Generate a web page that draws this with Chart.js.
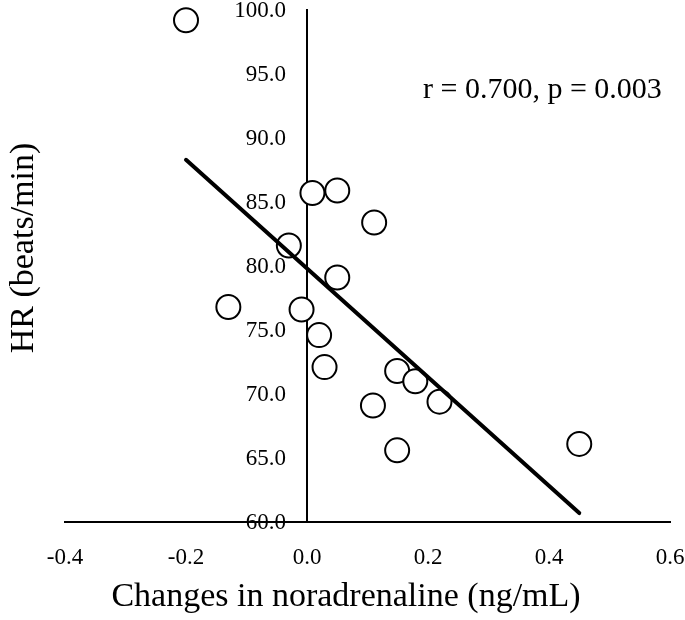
<!DOCTYPE html>
<html>
<head>
<meta charset="utf-8">
<script src="https://cdn.jsdelivr.net/npm/chart.js@4.4.1/dist/chart.umd.min.js"></script>
<style>
  html, body { margin: 0; padding: 0; background: #fff; }
  #wrap { width: 685px; height: 620px; }
</style>
</head>
<body>
<div id="wrap"><canvas id="chart"></canvas></div>
<script>
// HR vs change in noradrenaline — scatter with regression line

const noradrenaline = [-0.20, -0.13, -0.03, 0.009, 0.05, 0.111, 0.05, -0.009, 0.02, 0.029, 0.149, 0.179, 0.219, 0.109, 0.149, 0.45];
const heartRate     = [99.2, 76.8, 81.6, 85.7, 85.9, 83.4, 79.1, 76.6, 74.6, 72.1, 71.8, 71.0, 69.4, 69.1, 65.6, 66.1];
const trendX = [-0.20, 0.45];
const trendY = [88.3, 60.7];
const xTickLabels = ['-0.4', '-0.2', '0.0', '0.2', '0.4', '0.6'];
const yTickLabels = ['60.0', '65.0', '70.0', '75.0', '80.0', '85.0', '90.0', '95.0', '100.0'];
const xTitle = 'Changes in noradrenaline (ng/mL)';
const yTitle = 'HR (beats/min)';
const statText = 'r = 0.700, p = 0.003';

const SERIF = "'Liberation Serif', 'Times New Roman', serif";

const points = noradrenaline.map((x, i) => ({ x, y: heartRate[i] }));
const trend  = trendX.map((x, i) => ({ x, y: trendY[i] }));

function noPad(s) {
  s.paddingTop = 0; s.paddingBottom = 0; s.paddingLeft = 0; s.paddingRight = 0;
}

// y tick labels sit left of the x=0 axis line, plus titles and stat label
const textPlugin = {
  id: 'texts',
  afterDraw(chart) {
    const { ctx, scales: { x, y } } = chart;
    ctx.save();
    ctx.fillStyle = '#000';

    ctx.font = `23px ${SERIF}`;
    ctx.textAlign = 'right';
    ctx.textBaseline = 'middle';
    const x0 = x.getPixelForValue(0);
    y.ticks.forEach((t, i) => {
      ctx.fillText(yTickLabels[i], x0 - 21, y.getPixelForValue(t.value) + 1);
    });

    ctx.font = `34px ${SERIF}`;
    ctx.textAlign = 'center';
    ctx.textBaseline = 'alphabetic';
    ctx.fillText(xTitle, 346, 606);

    ctx.save();
    ctx.translate(33, 248);
    ctx.rotate(-Math.PI / 2);
    ctx.fillText(yTitle, 0, 0);
    ctx.restore();

    ctx.font = `30px ${SERIF}`;
    ctx.textAlign = 'left';
    ctx.fillText(statText, 423, 98);
    ctx.restore();
  },
};

new Chart(document.getElementById('chart'), {
  type: 'scatter',
  data: {
    datasets: [
      {
        type: 'line',
        label: 'trend',
        data: trend,
        borderColor: '#000',
        borderWidth: 4,
        borderCapStyle: 'round',
        pointRadius: 0,
        fill: false,
        clip: false,
        order: 0,
      },
      {
        label: 'HR',
        data: points,
        pointRadius: 12,
        pointHoverRadius: 12,
        pointBorderWidth: 2,
        pointBackgroundColor: '#fff',
        pointBorderColor: '#000',
        clip: false,
        order: 1,
      },
    ],
  },
  options: {
    responsive: true,
    maintainAspectRatio: false,
    animation: false,
    events: [],
    layout: { autoPadding: false, padding: { left: 65, right: 15, top: 10, bottom: 0 } },
    plugins: { legend: { display: false }, tooltip: { enabled: false } },
    scales: {
      x: {
        type: 'linear',
        position: 'bottom',
        min: -0.4, max: 0.6,
        afterBuildTicks: s => { s.ticks = xTickLabels.map(t => ({ value: parseFloat(t) })); },
        afterFit: s => { s.height = 98; noPad(s); },
        grid: { display: false, drawTicks: false },
        border: { display: true, color: '#000', width: 2 },
        ticks: {
          color: '#000',
          font: { family: SERIF, size: 23 },
          padding: 22,
          maxRotation: 0,
          callback: (v, i) => xTickLabels[i],
        },
      },
      y: {
        type: 'linear',
        position: { x: 0 },
        min: 60, max: 100,
        afterBuildTicks: s => { s.ticks = yTickLabels.map(t => ({ value: parseFloat(t) })); },
        afterFit: s => { s.width = 0; noPad(s); },
        grid: { display: false, drawTicks: false },
        border: { display: true, color: '#000', width: 2 },
        ticks: { display: false },
      },
    },
  },
  plugins: [textPlugin],
});
</script>
</body>
</html>
